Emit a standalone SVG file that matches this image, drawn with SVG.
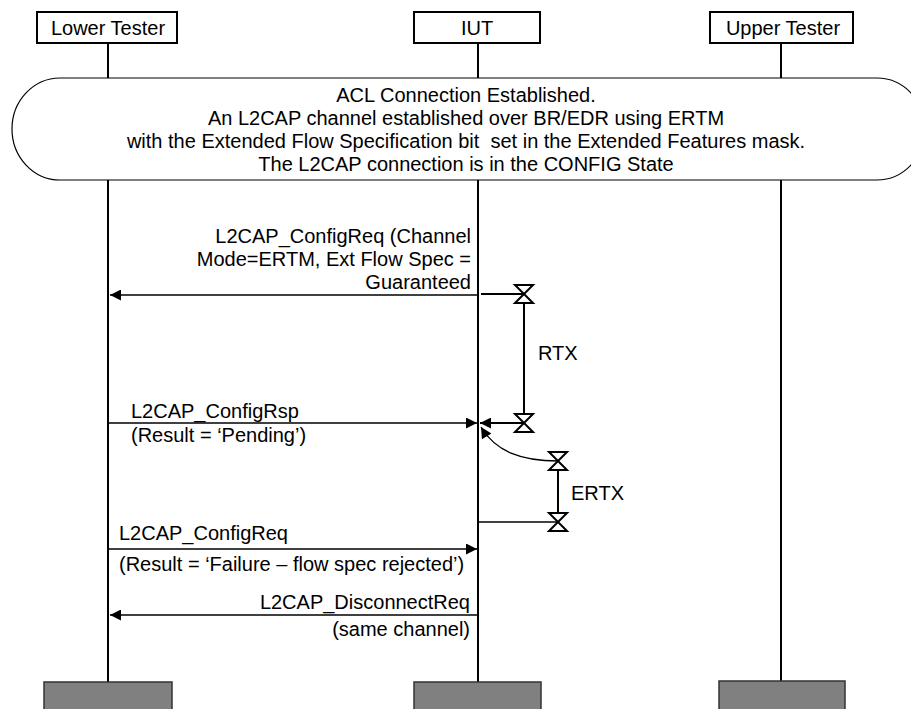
<svg xmlns="http://www.w3.org/2000/svg" width="911" height="709" viewBox="0 0 911 709">
<defs>
<style>
text{font-family:"Liberation Sans",Arial,sans-serif;font-size:20px;fill:#000}
.hdr{fill:#fff;stroke:#000;stroke-width:2}
.life{stroke:#000;stroke-width:2}
.msg{stroke:#000;stroke-width:1.3;fill:none}
.tmr{stroke:#000;stroke-width:2;fill:none}
.hg{fill:#fff;stroke:#000;stroke-width:2}
.end{fill:#808080;stroke:#333;stroke-width:1.5}
</style>
<marker id="ah" viewBox="0 0 10 10" refX="10" refY="5" markerWidth="15" markerHeight="11" markerUnits="userSpaceOnUse" orient="auto">
<path d="M0,0 L10,5 L0,10 z" fill="#000"/>
</marker>
</defs>
<rect width="911" height="709" fill="#fff"/>
<g id="lifelines">
<line class="life" x1="108" y1="43" x2="108" y2="682"/>
<line class="life" x1="478" y1="43" x2="478" y2="682"/>
<line class="life" x1="781" y1="43" x2="781" y2="681"/>
</g>
<g id="lower-tester">
<rect class="hdr" x="37" y="12" width="140" height="31"/>
<text x="108" y="35" text-anchor="middle">Lower Tester</text>
<rect class="end" x="44" y="682" width="128" height="40"/>
</g>
<g id="iut">
<rect class="hdr" x="414" y="12" width="126" height="31"/>
<text x="477" y="35" text-anchor="middle">IUT</text>
<rect class="end" x="414" y="682" width="127" height="40"/>
</g>
<g id="upper-tester">
<rect class="hdr" x="710" y="12" width="143" height="31"/>
<text x="783" y="35" text-anchor="middle">Upper Tester</text>
<rect class="end" x="719" y="681" width="126" height="40"/>
</g>
<g id="precondition">
<rect x="12" y="78" width="913" height="102" rx="48" ry="51" fill="#fff" stroke="#000" stroke-width="1.2"/>
<text x="466" y="102" text-anchor="middle">ACL Connection Established.</text>
<text x="466" y="125" text-anchor="middle">An L2CAP channel established over BR/EDR using ERTM</text>
<text x="466" y="148" text-anchor="middle">with the Extended Flow Specification bit&#160; set in the Extended Features mask.</text>
<text x="466" y="171" text-anchor="middle">The L2CAP connection is in the CONFIG State</text>
</g>
<g id="connectors">
<line class="msg" x1="478" y1="295" x2="110" y2="295" marker-end="url(#ah)"/>
<line class="tmr" x1="481" y1="294" x2="524" y2="294" stroke-width="1.5"/>
<line class="tmr" x1="524" y1="294" x2="524" y2="423"/>
<line class="msg" x1="108" y1="423" x2="477" y2="423" marker-end="url(#ah)"/>
<line class="tmr" x1="524" y1="423" x2="480" y2="423" marker-end="url(#ah)" stroke-width="1.5"/>
<path class="msg" d="M558,461 C522,461 496,452 481,427" stroke-width="1.5" marker-end="url(#ah)"/>
<line class="tmr" x1="558" y1="461" x2="558" y2="522"/>
<line class="msg" x1="478" y1="522" x2="558" y2="522"/>
<line class="msg" x1="108" y1="549" x2="477" y2="549" marker-end="url(#ah)"/>
<line class="msg" x1="478" y1="615" x2="110" y2="615" marker-end="url(#ah)"/>
</g>
<g id="timers">
<polygon class="hg" points="515,285 533,285 515,303 533,303"/>
<polygon class="hg" points="515,414 533,414 515,432 533,432"/>
<polygon class="hg" points="549,452 567,452 549,470 567,470"/>
<polygon class="hg" points="549,513 567,513 549,531 567,531"/>
<text x="538" y="360">RTX</text>
<text x="571" y="500">ERTX</text>
</g>
<g id="labels">
<text x="471" y="243" text-anchor="end">L2CAP_ConfigReq (Channel</text>
<text x="471" y="266" text-anchor="end">Mode=ERTM, Ext Flow Spec =</text>
<text x="471" y="289" text-anchor="end">Guaranteed</text>
<text x="131" y="418">L2CAP_ConfigRsp</text>
<text x="131" y="442">(Result = ‘Pending’)</text>
<text x="119" y="540">L2CAP_ConfigReq</text>
<text x="119" y="571">(Result = ‘Failure – flow spec rejected’)</text>
<text x="470" y="609" text-anchor="end">L2CAP_DisconnectReq</text>
<text x="470" y="636" text-anchor="end">(same channel)</text>
</g>
</svg>
